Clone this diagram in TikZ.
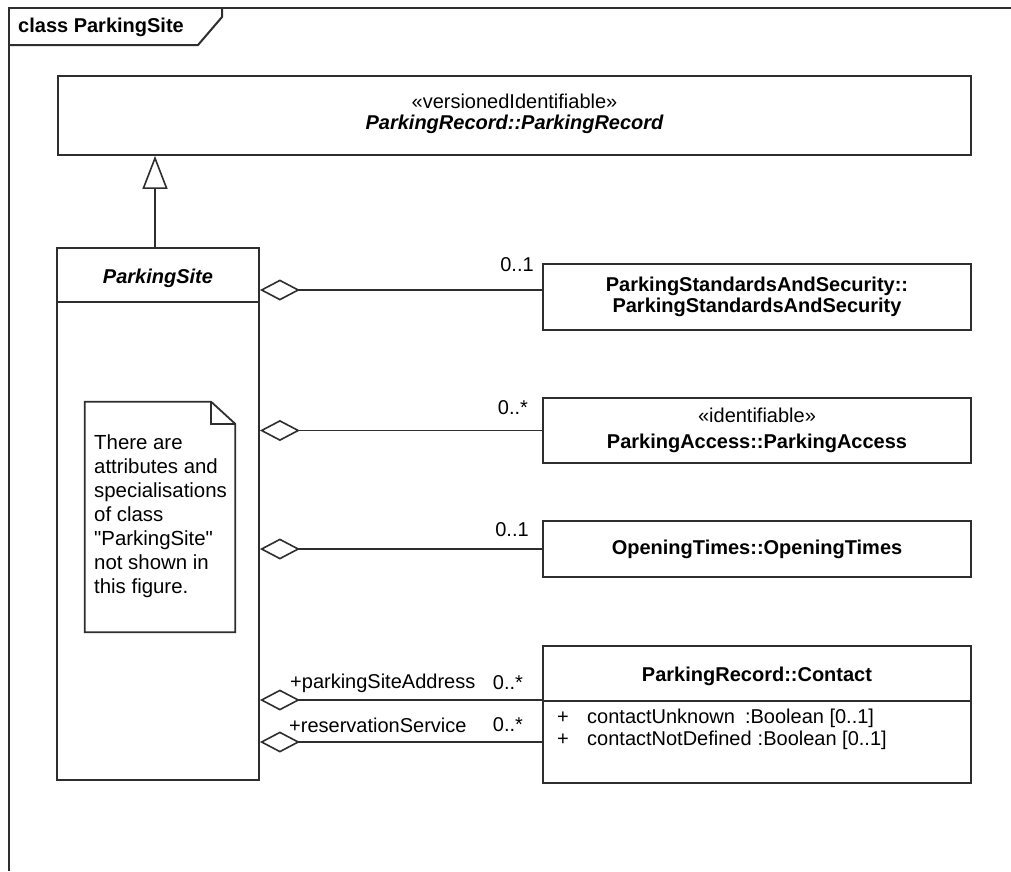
\documentclass[tikz,border=0pt]{standalone}
\usepackage{fontspec}
\setmainfont{Liberation Sans}
% same family without the TeX input mapping, so " stays a straight quote
\newfontfamily\plainfont{Liberation Sans}
\usetikzlibrary{arrows.meta}
\definecolor{linecol}{HTML}{2E2E2E}
\begin{document}
\begin{tikzpicture}[x=1pt,y=-1pt,
  every node/.style={font=\fontsize{20}{24}\selectfont, inner sep=0pt, text=black},
  umlbox/.style={draw=linecol, line width=1.8pt, fill=white, align=center},
  classbox/.style={umlbox, minimum width=428pt},
  framestyle/.style={draw=linecol, line width=2pt},
  agg/.style={draw=linecol, line width=1.8pt,
    {Diamond[open, length=40pt, width=21pt, line width=1.6pt]}-},
  gen/.style={draw=linecol, line width=1.8pt,
    -{Triangle[open, length=33pt, width=25pt, line width=1.6pt]}},
  role/.style={anchor=west},
  mult/.style={}
]
\useasboundingbox (0,0) rectangle (1011,871);
\fill[white] (0,0) rectangle (1011,871);

% diagram frame with its name tab
\draw[framestyle] (9,871) -- (9,8) -- (1011,8);
\draw[framestyle] (9,45) -- (198,45) -- (222,17) -- (222,8);
\node[anchor=west] (frametitle) at (18,27) {\bfseries class ParkingSite};

% superclass
\node[umlbox, minimum width=913pt, minimum height=79pt] (rec) at (514.5,115.5) {};
\node (recstereo) at (514.5,101) {«versionedIdentifiable»};
\node (rectitle) at (514.5,124) {\bfseries\itshape ParkingRecord::ParkingRecord};

% ParkingSite class with an empty attribute compartment
\node[umlbox, minimum width=202pt, minimum height=532pt] (site) at (158,514) {};
\draw[draw=linecol, line width=1.8pt] (site.west |- 0,302) -- (site.east |- 0,302);
\node (sitetitle) at (158,278) {\bfseries\itshape ParkingSite};

% generalisation
\draw[gen] ([xshift=-3pt]site.north) -- ([xshift=-3pt]site.north |- rec.south);

% note with folded corner
\node[minimum width=150pt, minimum height=230pt] (note) at (160,517) {};
\draw[draw=linecol, line width=1.8pt, fill=white, line join=miter]
  (note.north west) -- ([xshift=-24pt]note.north east)
  -- ([yshift=-22pt]note.north east) -- (note.south east)
  -- (note.south west) -- cycle;
\draw[draw=linecol, line width=1.8pt]
  ([xshift=-24pt]note.north east) -- ([xshift=-24pt,yshift=-22pt]note.north east)
  -- ([yshift=-22pt]note.north east);
\node[anchor=north west, align=left, font=\plainfont\fontsize{20.4}{24}\selectfont] (notetext) at (94,435)
  {There are\\attributes and\\specialisations\\of class\\"ParkingSite"\\not shown in\\this figure.};

% associated classes
\node[classbox, minimum height=66pt, font=\fontsize{20}{21}\selectfont\bfseries] (psas) at (757,297)
  {ParkingStandardsAndSecurity::\\ParkingStandardsAndSecurity};
\node[classbox, minimum height=65pt] (pa) at (757,430.5)
  {«identifiable»\\[2pt]\bfseries ParkingAccess::ParkingAccess};
\node[classbox, minimum height=56pt, font=\fontsize{20}{24}\selectfont\bfseries] (ot) at (757,549)
  {OpeningTimes::OpeningTimes};

% Contact class with two attributes
\node[classbox, minimum height=137pt] (contact) at (757,714.5) {};
\draw[draw=linecol, line width=1.8pt] (contact.west |- 0,701) -- (contact.east |- 0,701);
\node (contacttitle) at (757,676) {\bfseries ParkingRecord::Contact};
\node (vis1) at (563,718) {+};
\node[anchor=west] (attr1) at (587,718) {contactUnknown\hspace{0.5em}:Boolean [0..1]};
\node (vis2) at (563,740) {+};
\node[anchor=west] (attr2) at (587,740) {contactNotDefined\hspace{0.3em}:Boolean [0..1]};

% aggregations
\draw[agg] ([yshift=7pt]site.east |- psas.west) -- ([yshift=7pt]psas.west);
\draw[agg] (site.east |- pa.west) -- (pa.west);
\draw[agg] (site.east |- ot.west) -- (ot.west);
\draw[agg] ([yshift=14.5pt]site.east |- contact.west) -- ([yshift=14.5pt]contact.west);
\draw[agg] ([yshift=-27.5pt]site.east |- contact.west) -- ([yshift=-27.5pt]contact.west);

% multiplicities and roles
\node[mult] (m1) at (517,265) {0..1};
\node[mult] (m2) at (513,408) {0..*};
\node[mult] (m3) at (512,530) {0..1};
\node[role] (r4) at (290,683) {+parkingSiteAddress};
\node[mult] (m4) at (508,683) {0..*};
\node[role] (r5) at (289,725) {+reservationService};
\node[mult] (m5) at (508,725) {0..*};
\end{tikzpicture}
\end{document}
